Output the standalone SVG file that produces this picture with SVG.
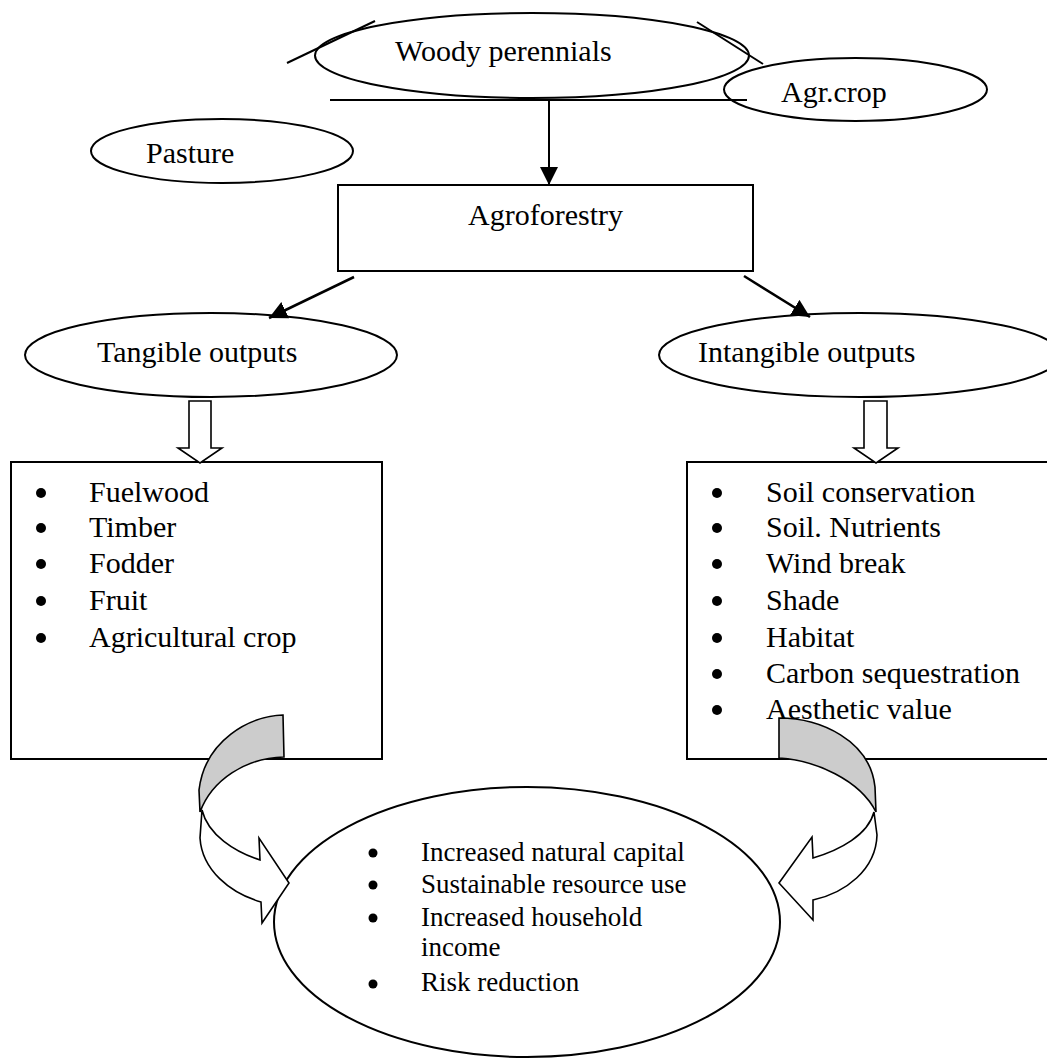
<svg xmlns="http://www.w3.org/2000/svg" width="1047" height="1059" viewBox="0 0 1047 1059">
<style>
text{font-family:"Liberation Serif","Times New Roman",serif;font-size:30px;fill:#000}
.sm{font-size:27px}
.shape{fill:none;stroke:#000;stroke-width:2}
.box{fill:#fff;stroke:#000;stroke-width:2}
.ln{fill:none;stroke:#000;stroke-width:2}
.ln3{fill:none;stroke:#000;stroke-width:2.5}
.blk{fill:#fff;stroke:#000;stroke-width:1.6;stroke-linejoin:miter}
.gray{fill:#cccccc;stroke:#000;stroke-width:1.6}
.bul{fill:#000}
</style>
<defs>
<marker id="ah" markerUnits="userSpaceOnUse" markerWidth="18" markerHeight="18" refX="18" refY="9" orient="auto">
<path d="M0,0 L18,9 L0,18 Z" fill="#000"/>
</marker>
</defs>
<rect width="1047" height="1059" fill="#fff"/>

<g id="woody">
<ellipse class="shape" cx="532" cy="55.5" rx="217" ry="42.5"/>
<text x="395" y="61">Woody perennials</text>
</g>
<g id="agrcrop">
<ellipse class="shape" cx="855.5" cy="89.5" rx="131.5" ry="31.5"/>
<text x="781" y="102">Agr.crop</text>
</g>
<g id="pasture">
<ellipse class="shape" cx="222" cy="151" rx="131" ry="32"/>
<text x="146" y="163">Pasture</text>
</g>
<g id="agroforestry">
<rect class="box" x="338" y="185" width="415" height="86"/>
<text x="468" y="225">Agroforestry</text>
</g>
<g id="tangible">
<ellipse class="shape" cx="211" cy="355" rx="186" ry="42"/>
<text x="97" y="362">Tangible outputs</text>
</g>
<g id="intangible">
<ellipse class="shape" cx="860" cy="355" rx="201" ry="42"/>
<text x="698" y="362">Intangible outputs</text>
</g>

<g id="tangible-list">
<rect class="box" x="11" y="462" width="371" height="297"/>
<circle class="bul" cx="41" cy="493" r="5"/><text x="89" y="502">Fuelwood</text>
<circle class="bul" cx="41" cy="528" r="5"/><text x="89" y="537">Timber</text>
<circle class="bul" cx="41" cy="564" r="5"/><text x="89" y="573">Fodder</text>
<circle class="bul" cx="41" cy="601" r="5"/><text x="89" y="610">Fruit</text>
<circle class="bul" cx="41" cy="638" r="5"/><text x="89" y="647">Agricultural crop</text>
</g>
<g id="intangible-list">
<rect class="box" x="687" y="462" width="370" height="297"/>
<circle class="bul" cx="717" cy="493" r="5"/><text x="766" y="502">Soil conservation</text>
<circle class="bul" cx="717" cy="528" r="5"/><text x="766" y="537">Soil. Nutrients</text>
<circle class="bul" cx="717" cy="564" r="5"/><text x="766" y="573">Wind break</text>
<circle class="bul" cx="717" cy="601" r="5"/><text x="766" y="610">Shade</text>
<circle class="bul" cx="717" cy="638" r="5"/><text x="766" y="647">Habitat</text>
<circle class="bul" cx="717" cy="674" r="5"/><text x="766" y="683">Carbon sequestration</text>
<circle class="bul" cx="717" cy="710" r="5"/><text x="766" y="719">Aesthetic value</text>
</g>

<g id="benefits">
<ellipse class="shape" cx="527" cy="922" rx="253" ry="135"/>
<circle class="bul" cx="373" cy="853" r="4.5"/><text class="sm" x="421" y="861">Increased natural capital</text>
<circle class="bul" cx="373" cy="885" r="4.5"/><text class="sm" x="421" y="893">Sustainable resource use</text>
<circle class="bul" cx="373" cy="918" r="4.5"/><text class="sm" x="421" y="926">Increased household</text>
<text class="sm" x="421" y="956">income</text>
<circle class="bul" cx="373" cy="984" r="4.5"/><text class="sm" x="421" y="991">Risk reduction</text>
</g>

<g id="connectors">
<line class="ln" x1="287" y1="63" x2="375" y2="21"/>
<line class="ln" x1="697" y1="22" x2="763" y2="64"/>
<line class="ln" x1="330" y1="100" x2="747" y2="100"/>
<line class="ln" x1="549" y1="100" x2="549" y2="185" marker-end="url(#ah)"/>
<line class="ln3" x1="354" y1="277" x2="269" y2="318" marker-end="url(#ah)"/>
<line class="ln3" x1="744" y1="276" x2="810" y2="317" marker-end="url(#ah)"/>
<polygon class="blk" points="189,401 211,401 211,448 222,448 200,463 178,448 189,448"/>
<polygon class="blk" points="864,401 887,401 887,448 898,448 876,463 854,448 864,448"/>
<path class="gray" d="M283,715 C250,716 205,740 199,790 L200,812 C212,780 245,758 284,757 Z"/>
<path class="blk" d="M202,810 L200,838 C202,870 230,893 261,902 L262,923 L289,883 L259,838 L260,860 C235,852 208,835 202,810 Z"/>
<path class="gray" d="M779,718 C820,718 870,740 875,787 L876,812 C860,780 815,760 779,758 Z"/>
<path class="blk" d="M874,812 L877,835 C876,870 845,893 813,900 L813,920 L779,883 L812,837 L813,858 C840,850 868,835 874,812 Z"/>
</g>
</svg>
